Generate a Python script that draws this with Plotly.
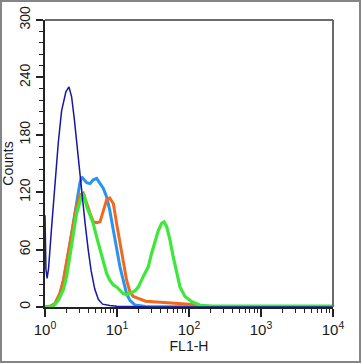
import plotly.graph_objects as go

# FL1-H channel values (log scale) and counts for each histogram
navy_x = [1.0, 1.03, 1.07, 1.12, 1.24, 1.38, 1.53, 1.70, 1.95, 2.15, 2.34, 2.55, 2.75, 2.90,
          3.24, 3.60, 3.98, 4.37, 4.90, 5.50, 6.30, 7.94, 10.0, 15.0, 30.0, 10000]
navy_y = [96, 40, 30, 40, 85, 130, 172, 205, 225, 230, 220, 197, 172, 155,
          120, 88, 60, 38, 19, 8, 3, 1.5, 0.8, 0.3, 0, 0]

lblue_x = [1.0, 1.3, 1.38, 1.61, 1.80, 2.0, 2.22, 2.48, 2.75, 2.90, 3.06, 3.24, 3.50, 3.80,
           4.22, 4.69, 5.22, 5.81, 6.46, 7.18, 7.94, 8.91, 9.89, 11.0, 12.2, 13.6, 15.1,
           17.8, 25.0, 10000]
lblue_y = [0, 1, 3, 13, 27, 45, 66, 88, 108, 122, 130, 136, 133, 130,
           129, 133, 134.5, 129, 124, 115, 101, 80, 60, 42, 28, 14, 7,
           2, 0.5, 0]

orange_x = [1.0, 1.2, 1.38, 1.61, 1.80, 2.0, 2.22, 2.48, 2.75, 3.06, 3.40, 3.79, 4.22, 4.69,
            5.22, 5.81, 6.46, 7.18, 7.94, 8.91, 9.89, 11.0, 12.2, 13.6, 15.1, 16.8, 19.8,
            25.0, 40.0, 63.0, 100, 158, 251, 10000]
orange_y = [0, 1, 4, 14.6, 28, 46, 67, 87, 105, 117, 119, 108, 98, 89,
            88, 89, 101, 112, 114, 108, 87, 67, 46, 28, 16, 11, 9,
            6, 5, 4, 3, 1, 0.3, 0]

green_x = [1.0, 1.3, 1.53, 1.80, 2.0, 2.22, 2.48, 2.75, 3.06, 3.30, 3.50, 3.79, 4.22, 4.69,
           5.22, 5.81, 6.46, 7.18, 7.94, 8.91, 9.89, 11.0, 12.2, 13.6, 15.1, 17.8, 19.8,
           23.2, 27.2, 30.2, 33.9, 37.5, 41.7, 45.0, 49.0, 54.5, 60.3, 67.6, 75.0, 87.9,
           110, 141, 195, 1000, 10000]
green_y = [0, 1, 7, 18, 32, 53, 77, 98, 110, 118, 117, 105, 96, 87,
           73, 60, 46, 35, 28, 23, 21, 18, 14, 13, 14, 17, 21,
           32, 42, 56, 70, 80, 87.5, 89, 84, 70, 52.6, 35, 21, 11,
           5.5, 2, 1, 1, 1]

x_tickvals = [1, 10, 100, 1000, 10000]
x_ticktext = ["10<sup>0</sup>", "10<sup>1</sup>", "10<sup>2</sup>", "10<sup>3</sup>", "10<sup>4</sup>"]
y_tickvals = [0, 60, 120, 180, 240, 300]

minor_x = [m * d for d in [1, 10, 100, 1000] for m in range(2, 10)]

fig = go.Figure()
fig.add_trace(go.Scatter(x=lblue_x, y=lblue_y, mode="lines", line=dict(color="#2a93ee", width=3)))
fig.add_trace(go.Scatter(x=orange_x, y=orange_y, mode="lines", line=dict(color="#f2691e", width=3)))
fig.add_trace(go.Scatter(x=green_x, y=green_y, mode="lines", line=dict(color="#3de83a", width=3.2)))
fig.add_trace(go.Scatter(x=navy_x, y=navy_y, mode="lines", line=dict(color="#1717a3", width=1.5)))

font = "Liberation Sans, Arial, sans-serif"
fig.update_layout(
    width=362, height=364,
    margin=dict(l=45, r=29, t=20, b=57),
    paper_bgcolor="white", plot_bgcolor="white",
    showlegend=False,
    font=dict(family=font, size=14, color="#1a1a1a"),
    xaxis=dict(type="log", range=[0, 4], tickmode="array", tickvals=x_tickvals, ticktext=x_ticktext,
               ticks="outside", ticklen=8, tickwidth=1.5, tickcolor="#222", automargin=False,
               showline=True, linecolor="#222", linewidth=2, showgrid=False, zeroline=False,
               tickfont=dict(size=15),
               minor=dict(tickvals=minor_x, ticks="outside", ticklen=4, tickwidth=1.2, tickcolor="#222", showgrid=False),
               title=dict(text="FL1-H", font=dict(size=14), standoff=2)),
    yaxis=dict(range=[0, 300], tickmode="array", tickvals=y_tickvals, tickangle=-90,
               ticks="outside", ticklen=7, tickwidth=1.5, tickcolor="#222", automargin=False,
               showline=True, linecolor="#222", linewidth=2, showgrid=False, zeroline=False,
               tickfont=dict(size=14),
               minor=dict(dtick=12, ticks="outside", ticklen=4, tickwidth=1.2, tickcolor="#222", showgrid=False),
               title=dict(text="Counts", font=dict(size=14), standoff=2)),
    shapes=[
        dict(type="line", xref="paper", yref="paper", x0=0, x1=1, y0=1, y1=1,
             line=dict(color="#6b6b6b", width=2)),
        dict(type="line", xref="paper", yref="paper", x0=1, x1=1, y0=0, y1=1,
             line=dict(color="#6b6b6b", width=2)),
        dict(type="rect", xref="paper", yref="paper",
             x0=-44.0 / 288, x1=315.0 / 288, y0=-55.0 / 287, y1=306.0 / 287,
             line=dict(color="#858585", width=2)),
    ],
)

fig.write_html("out.html", config={"displayModeBar": False},
               post_script="document.body.style.margin='0';document.body.style.padding='0';"
                           "document.body.style.overflow='hidden';")
